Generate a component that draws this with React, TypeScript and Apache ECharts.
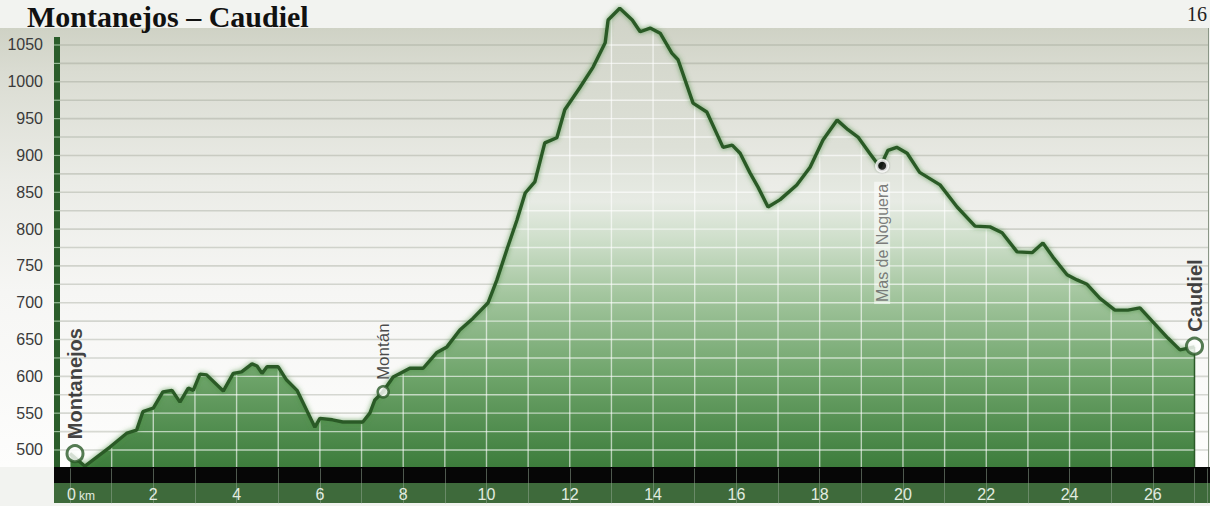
import React, { useEffect, useRef } from 'react';
import * as echarts from 'echarts';

// ---- data ----
const TITLE = 'Montanejos – Caudiel';
const PAGE_NUMBER = '16';

const KM = [
  0.0, 0.36, 0.96, 1.37, 1.6, 1.75, 2.0, 2.23, 2.45, 2.64, 2.84, 2.96, 3.12, 3.28, 3.68, 3.92,
  4.12, 4.37, 4.49, 4.61, 4.73, 5.0, 5.2, 5.45, 5.88, 6.0, 6.3, 6.55, 7.03, 7.2, 7.32, 7.5,
  7.76, 8.16, 8.48, 8.8, 9.05, 9.36, 9.68, 10.04, 10.25, 10.5, 10.73, 10.93, 11.16, 11.4, 11.69, 11.88,
  12.24, 12.56, 12.85, 12.92, 13.2, 13.5, 13.69, 13.93, 14.17, 14.45, 14.6, 14.96, 15.29, 15.68, 15.9, 16.09,
  16.33, 16.52, 16.76, 17.05, 17.45, 17.77, 18.08, 18.42, 18.68, 18.92, 19.2, 19.45, 19.64, 19.85, 20.1, 20.4,
  20.89, 21.3, 21.73, 22.09, 22.38, 22.74, 23.1, 23.36, 23.6, 23.94, 24.18, 24.42, 24.73, 25.09, 25.4, 25.69,
  26.0, 26.36, 26.65, 27.0,
];
const ELEV = [
  495, 478, 504, 523, 527, 552, 557, 579, 581, 565, 584, 581, 603, 602, 580, 604,
  606, 617, 614, 604, 613, 613, 595, 581, 531, 543, 541, 538, 538, 550, 568, 578,
  599, 611, 611, 632, 640, 663, 679, 700, 731, 774, 812, 849, 864, 917, 924, 962,
  992, 1020, 1053, 1084, 1100, 1084, 1068, 1073, 1066, 1039, 1030, 971, 959, 911, 914, 903,
  876, 857, 830, 840, 860, 884, 921, 948, 935, 925, 903, 884, 907, 911, 903, 877,
  860, 830, 804, 803, 795, 769, 768, 781, 762, 738, 731, 725, 706, 690, 690, 693,
  674, 652, 636, 640,
];

const Y_LABELS = [500, 550, 600, 650, 700, 750, 800, 850, 900, 950, 1000, 1050];
const GRID_LEVELS = [
  500, 525, 550, 575, 600, 625, 650, 675, 700, 725, 750, 775, 800, 825, 850, 875, 900, 925,
  950, 975, 1000, 1025, 1050,
];
const X_LABELS = [0, 2, 4, 6, 8, 10, 12, 14, 16, 18, 20, 22, 24, 26];
const X_GRID = [0, 1, 2, 3, 4, 5, 6, 7, 8, 9, 10, 11, 12, 13, 14, 15, 16, 17, 18, 19, 20, 21, 22, 23, 24, 25, 26, 27];

const MARKER_NAMES = ['Montanejos', 'Montán', 'Mas de Noguera', 'Caudiel'];
const MARKER_KM = [0.12, 7.52, 19.5, 27.0];
const MARKER_ELEV = [495, 579, 886, 641];

const Y_MIN = 475;
const Y_MAX = 1105;
const X_MAX = 27.3;

const FONT = "'Liberation Sans', Arial, Helvetica, sans-serif";
const LINE_GREEN = '#2b5a28';

function interp(k: number): number {
  for (let i = 0; i < KM.length - 1; i++) {
    if (k >= KM[i] && k <= KM[i + 1]) {
      const t = (k - KM[i]) / (KM[i + 1] - KM[i]);
      return ELEV[i] + t * (ELEV[i + 1] - ELEV[i]);
    }
  }
  return ELEV[ELEV.length - 1];
}

function intervalsAbove(L: number): [number, number][] {
  const res: [number, number][] = [];
  let start: number | null = null;
  for (let i = 0; i < KM.length - 1; i++) {
    const x0 = KM[i], x1 = KM[i + 1], e0 = ELEV[i], e1 = ELEV[i + 1];
    const a0 = e0 > L, a1 = e1 > L;
    if (a0 && start === null) start = x0;
    if (a0 && !a1) {
      const xc = x0 + ((L - e0) / (e1 - e0)) * (x1 - x0);
      res.push([start as number, xc]);
      start = null;
    } else if (!a0 && a1) {
      start = x0 + ((L - e0) / (e1 - e0)) * (x1 - x0);
    }
  }
  if (start !== null) res.push([start, KM[KM.length - 1]]);
  return res;
}

export default function App() {
  const ref = useRef<HTMLDivElement>(null);

  useEffect(() => {
    if (!ref.current) return;
    const chart = echarts.init(ref.current, undefined, { renderer: 'svg' });
    const profile = KM.map((k, i) => [k, ELEV[i]]);

    const markerStyles: any[] = [
      {
        symbolSize: 16,
        itemStyle: { color: '#ffffff', borderColor: LINE_GREEN, borderWidth: 3 },
        label: { position: 'top', distance: 5, rotate: 90, align: 'left', verticalAlign: 'middle', fontSize: 20, fontWeight: 'bold', color: '#111' },
      },
      {
        symbolSize: 11,
        itemStyle: { color: '#ffffff', borderColor: LINE_GREEN, borderWidth: 2.5 },
        label: { position: 'top', distance: 5, rotate: 90, align: 'left', verticalAlign: 'middle', fontSize: 17, color: '#1a1a1a' },
      },
      {
        symbolSize: 11,
        itemStyle: { color: '#111111', borderColor: '#ffffff', borderWidth: 3, shadowBlur: 2, shadowColor: 'rgba(0,0,0,0.4)' },
        label: { position: 'bottom', distance: 9, rotate: 90, align: 'right', verticalAlign: 'middle', fontSize: 16, color: '#5e5e5e', backgroundColor: 'rgba(255,255,255,0.7)', padding: [0, 2] },
      },
      {
        symbolSize: 16,
        itemStyle: { color: '#ffffff', borderColor: LINE_GREEN, borderWidth: 3 },
        label: { position: 'top', distance: 5, rotate: 90, align: 'left', verticalAlign: 'middle', fontSize: 20, fontWeight: 'bold', color: '#111' },
      },
    ];

    const markers = MARKER_NAMES.map((name, i) => ({
      name,
      value: [MARKER_KM[i], MARKER_ELEV[i]],
      symbolSize: markerStyles[i].symbolSize,
      itemStyle: markerStyles[i].itemStyle,
      label: { show: true, formatter: name, fontFamily: FONT, ...markerStyles[i].label },
    }));

    const option: any = {
      animation: false,
      grid: { left: 70, right: 3, top: 4.5, bottom: 37.6 },
      xAxis: {
        type: 'value',
        min: 0,
        max: X_MAX,
        interval: 1,
        z: 20,
        axisLine: { show: false },
        splitLine: { show: false },
        axisTick: { show: true, inside: false, length: 35, lineStyle: { color: 'rgba(150,170,150,0.5)', width: 1 } },
        axisLabel: {
          margin: 18,
          fontSize: 16,
          fontFamily: FONT,
          color: '#e2ece0',
          formatter: (v: number) => {
            if (v === 0) return '{p|}{z|0}{k| km}';
            return X_LABELS.includes(v) ? '{z|' + v + '}' : '';
          },
          rich: {
            p: { width: 22 },
            z: { fontSize: 16, fontFamily: FONT, color: '#e2ece0' },
            k: { fontSize: 12, fontFamily: FONT, color: '#e2ece0', verticalAlign: 'bottom' },
          },
        },
      },
      yAxis: {
        type: 'value',
        min: Y_MIN,
        max: Y_MAX,
        interval: 25,
        axisLine: { show: false },
        axisTick: { show: false },
        splitLine: { show: false },
        axisLabel: {
          margin: 27,
          fontSize: 16,
          fontFamily: FONT,
          color: '#3a3a3a',
          formatter: (v: number) => (Y_LABELS.includes(v) ? String(v) : ''),
        },
      },
      graphic: [
        {
          type: 'rect', z: -10, silent: true,
          shape: { x: 0, y: 28, width: 1208, height: 439 },
          style: {
            fill: new echarts.graphic.LinearGradient(0, 0, 0, 1, [
              { offset: 0, color: '#cfd2c5' },
              { offset: 0.1, color: '#dadcd2' },
              { offset: 0.35, color: '#ebece7' },
              { offset: 0.6, color: '#f6f6f4' },
              { offset: 1, color: '#fdfdfc' },
            ]),
          },
        },
        { type: 'rect', z: 0, silent: true, shape: { x: 54, y: 37, width: 6, height: 430 }, style: { fill: '#2b5d2b' } },
        { type: 'line', z: 10, silent: true, shape: { x1: 1208.5, y1: 28, x2: 1208.5, y2: 467 }, style: { stroke: '#8a9686', lineWidth: 1 } },
        { type: 'rect', z: 10, silent: true, shape: { x: 54, y: 467, width: 1156, height: 16 }, style: { fill: '#060606' } },
        { type: 'rect', z: 10, silent: true, shape: { x: 54, y: 483, width: 1156, height: 20 }, style: { fill: '#3e6a3b' } },
        {
          type: 'text', z: 10, silent: true, x: 27, y: 16,
          style: { text: TITLE, font: "bold 30px 'Liberation Serif', 'Times New Roman', serif", fill: '#111', verticalAlign: 'middle', align: 'left' },
        },
        {
          type: 'text', z: 10, silent: true, x: 1187, y: 14,
          style: { text: PAGE_NUMBER, font: "20px 'Liberation Serif', 'Times New Roman', serif", fill: '#222', verticalAlign: 'middle', align: 'left' },
        },
      ],
      series: [
        {
          name: 'bgGrid',
          type: 'custom',
          z: 1,
          silent: true,
          data: GRID_LEVELS.map((L) => [0, L]),
          renderItem: (params: any, api: any) => {
            const L = api.value(1);
            const p = api.coord([0, L]);
            const right = params.coordSys.x + params.coordSys.width + 1;
            return {
              type: 'group',
              children: [
                { type: 'line', shape: { x1: p[0] - 10, y1: p[1], x2: right, y2: p[1] }, style: { stroke: 'rgba(140,145,130,0.33)', lineWidth: 1.6 } },
                { type: 'line', shape: { x1: p[0] - 16, y1: p[1], x2: p[0] - 10, y2: p[1] }, style: { stroke: 'rgba(190,220,190,0.75)', lineWidth: 1.2 } },
              ],
            };
          },
        },
        {
          name: 'area',
          type: 'line',
          z: 2,
          silent: true,
          symbol: 'none',
          data: profile,
          lineStyle: { width: 0, opacity: 0 },
          areaStyle: {
            opacity: 1,
            color: new echarts.graphic.LinearGradient(0, 0, 0, 1, [
              { offset: 0, color: '#d0d3c7' },
              { offset: 0.3, color: '#dde0d7' },
              { offset: 0.42, color: '#e7ebe4' },
              { offset: 0.5, color: '#cfdfcb' },
              { offset: 0.62, color: '#a4c69f' },
              { offset: 0.8, color: '#6ea46a' },
              { offset: 1, color: '#3c7c3b' },
            ]),
          },
        },
        {
          name: 'hFill',
          type: 'custom',
          z: 3,
          silent: true,
          data: GRID_LEVELS.map((L) => [0, L]),
          renderItem: (params: any, api: any) => {
            const L = api.value(1);
            const segs = intervalsAbove(L);
            return {
              type: 'group',
              children: segs.map(([a, b]) => {
                const p0 = api.coord([a, L]);
                const p1 = api.coord([b, L]);
                return { type: 'line', shape: { x1: p0[0], y1: p0[1], x2: p1[0], y2: p1[1] }, style: { stroke: 'rgba(255,255,255,0.62)', lineWidth: 1.4 } };
              }),
            };
          },
        },
        {
          name: 'vFill',
          type: 'custom',
          z: 3,
          silent: true,
          data: X_GRID.map((k) => [k, Y_MIN]),
          renderItem: (params: any, api: any) => {
            const k = api.value(0);
            const e = interp(k);
            const p0 = api.coord([k, Y_MIN]);
            const p1 = api.coord([k, e]);
            const isEnd = k === KM[KM.length - 1];
            return {
              type: 'line',
              shape: { x1: p0[0], y1: p0[1], x2: p1[0], y2: p1[1] + (isEnd ? 0 : 2) },
              style: isEnd ? { stroke: LINE_GREEN, lineWidth: 1.5 } : { stroke: 'rgba(255,255,255,0.62)', lineWidth: 1.4 },
            };
          },
        },
        {
          name: 'profile',
          type: 'line',
          z: 4,
          silent: true,
          symbol: 'none',
          data: profile,
          lineStyle: { color: LINE_GREEN, width: 3.4, shadowBlur: 5, shadowColor: 'rgba(70,140,60,0.8)' },
        },
        {
          name: 'places',
          type: 'scatter',
          z: 5,
          silent: true,
          data: markers,
        },
      ],
    };

    chart.setOption(option);
    return () => chart.dispose();
  }, []);

  return (
    <div
      ref={ref}
      style={{ position: 'absolute', left: 0, top: 0, width: 1210, height: 506, background: '#f2f3f0' }}
    />
  );
}
